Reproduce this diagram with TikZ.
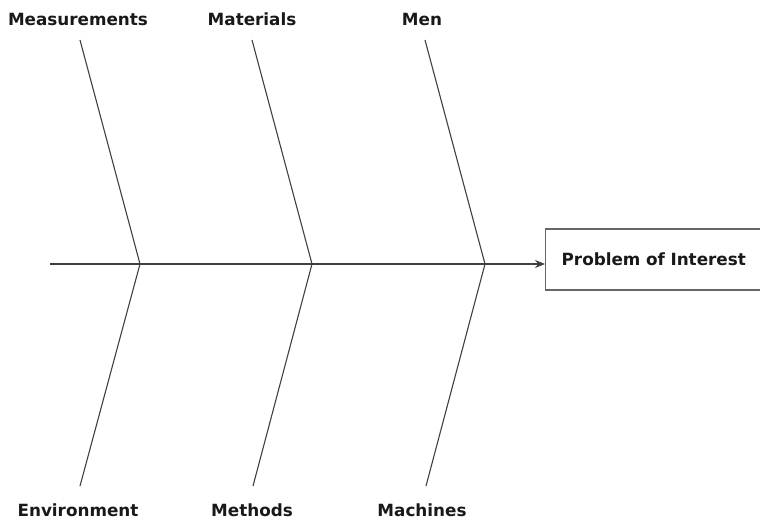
\documentclass[tikz,border=0pt]{standalone}
\usepackage{fontspec}
\setmainfont{DejaVu Sans}
\usetikzlibrary{arrows.meta}
\begin{document}
\begin{tikzpicture}[x=1pt,y=-1pt,
  lbl/.style={font=\bfseries\fontsize{16.8}{19}\selectfont, text=black!90, inner sep=0pt},
  bone/.style={draw=black!75, line width=1.1pt},
  box/.style={draw=black!60, line width=1.3pt, fill=white, minimum height=61pt,
              text width=190pt, inner xsep=16pt, align=left,
              font=\bfseries\fontsize{16.8}{19}\selectfont, text=black!90}]
\useasboundingbox (0,0) rectangle (760,521);
% labels
\node[lbl] (meas) at (78,19) {Measurements};
\node[lbl] (mat)  at (252,19) {Materials};
\node[lbl] (men)  at (422,19) {Men};
\node[lbl] (env)  at (78,510) {Environment};
\node[lbl] (meth) at (252,510) {Methods};
\node[lbl] (mach) at (422,510) {Machines};
% effect box
\node[box, anchor=west] (poi) at (545,259.5) {Problem of Interest};
% spine
\coordinate (tail) at (50,264);
\coordinate (j1) at (140,264);
\coordinate (j2) at (312,264);
\coordinate (j3) at (485,264);
\draw[bone, -{Stealth[length=10pt,width=8pt]}] (tail) -- (poi.west |- tail);
% bone ends
\coordinate (t1) at (80,40);
\coordinate (t2) at (252,40);
\coordinate (t3) at (425,40);
\coordinate (b1) at (80,486);
\coordinate (b2) at (253,486);
\coordinate (b3) at (426,486);
\draw[bone] (t1) -- (j1) -- (b1);
\draw[bone] (t2) -- (j2) -- (b2);
\draw[bone] (t3) -- (j3) -- (b3);
\end{tikzpicture}
\end{document}
